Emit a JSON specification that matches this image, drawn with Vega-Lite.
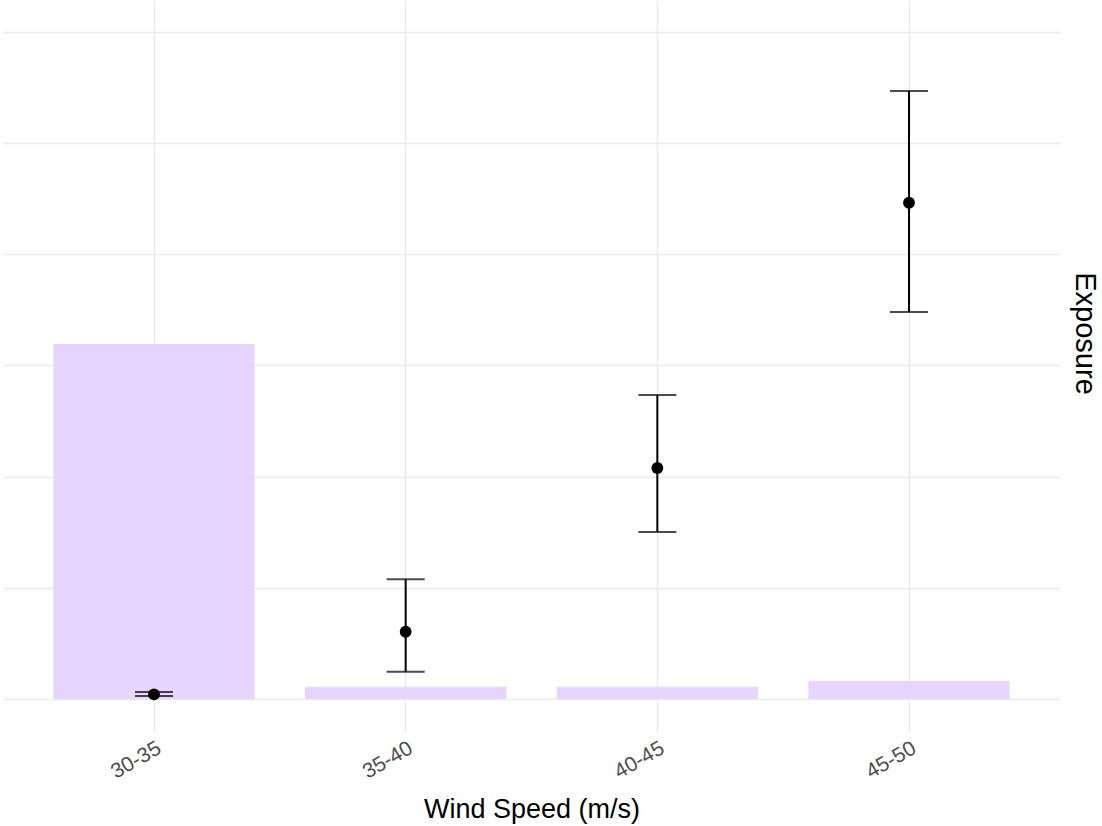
{
  "$schema": "https://vega.github.io/schema/vega-lite/v6.json",
  "autosize": {"type": "none"},
  "padding": {"left": 3, "top": 0, "right": 42, "bottom": 94},
  "width": 1057,
  "height": 732,
  "background": "white",
  "config": {
    "view": {"stroke": null},
    "font": "Liberation Sans"
  },
  "data": {
    "values": [
      {"wind": "30-35", "exposure": 3.193, "estimate": 0.042, "lower": 0.027, "upper": 0.063},
      {"wind": "35-40", "exposure": 0.11, "estimate": 0.605, "lower": 0.246, "upper": 1.077},
      {"wind": "40-45", "exposure": 0.11, "estimate": 2.078, "lower": 1.502, "upper": 2.735},
      {"wind": "45-50", "exposure": 0.162, "estimate": 4.464, "lower": 3.481, "upper": 5.469}
    ]
  },
  "encoding": {
    "x": {
      "field": "wind",
      "type": "nominal",
      "sort": null,
      "scale": {"paddingInner": 0.2, "paddingOuter": 0.2},
      "axis": {
        "title": "Wind Speed (m/s)",
        "titleFont": "Liberation Sans",
        "titleFontSize": 27,
        "titleFontWeight": "normal",
        "titleColor": "black",
        "titleBaseline": "alphabetic",
        "titleY": 85,
        "labelAngle": -30,
        "labelAlign": "right",
        "labelBaseline": "top",
        "labelFontSize": 21,
        "labelColor": "#4d4d4d",
        "labelPadding": 5,
        "labelFont": "Liberation Sans",
        "domain": false,
        "ticks": false,
        "grid": true,
        "gridColor": "#ebebeb",
        "gridWidth": 1.5,
        "bandPosition": 0.5
      }
    }
  },
  "layer": [
    {
      "mark": {"type": "bar", "color": "#e8d5fe"},
      "encoding": {
        "y": {
          "field": "exposure",
          "type": "quantitative",
          "scale": {"domain": [-0.297, 6.288], "nice": false, "zero": false},
          "axis": {
            "orient": "right",
            "values": [0, 1, 2, 3, 4, 5, 6],
            "labels": false,
            "ticks": false,
            "domain": false,
            "grid": true,
            "gridColor": "#ebebeb",
            "gridWidth": 1.5,
            "title": "Exposure",
            "titleFont": "Liberation Sans",
            "titleFontSize": 29,
            "titleFontWeight": "normal",
            "titleColor": "black",
            "titleAngle": 90,
            "titleAlign": "center",
            "titleBaseline": "alphabetic",
            "titleX": 15,
            "titleY": 333
          }
        }
      }
    },
    {
      "mark": {"type": "rule", "color": "black", "strokeWidth": 2},
      "encoding": {
        "y": {"field": "lower", "type": "quantitative"},
        "y2": {"field": "upper"}
      }
    },
    {
      "mark": {"type": "tick", "color": "black", "thickness": 2, "size": 38},
      "encoding": {
        "y": {"field": "lower", "type": "quantitative"}
      }
    },
    {
      "mark": {"type": "tick", "color": "black", "thickness": 2, "size": 38},
      "encoding": {
        "y": {"field": "upper", "type": "quantitative"}
      }
    },
    {
      "mark": {"type": "point", "filled": true, "color": "black", "opacity": 1, "size": 140},
      "encoding": {
        "y": {"field": "estimate", "type": "quantitative"}
      }
    }
  ]
}
